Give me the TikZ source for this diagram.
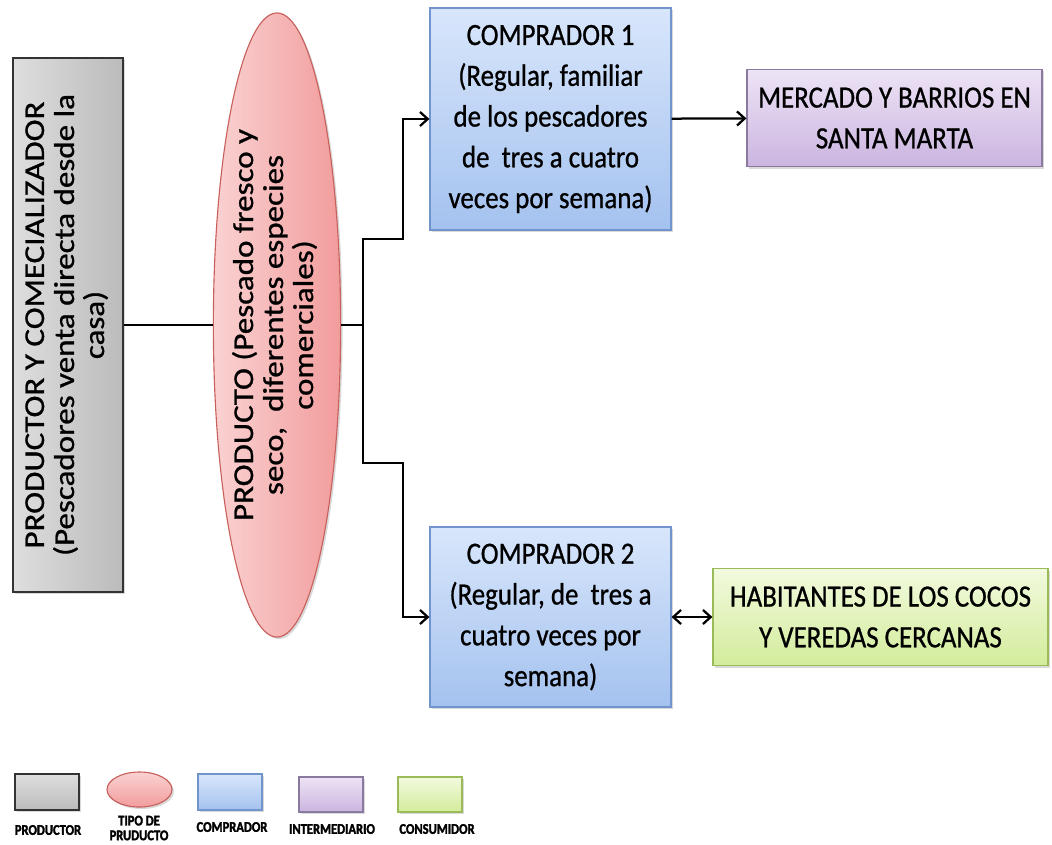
\documentclass[tikz,border=0pt]{standalone}
\usepackage{fontspec}
\usepackage{graphicx}
\setmainfont{Carlito}[FakeBold=0.8]
\newfontfamily\narrowfont{Carlito}[FakeStretch=0.87, FakeBold=0.8]
\newfontfamily\legendfont{Carlito Bold}[FakeStretch=0.85, FakeBold=2]
\usetikzlibrary{shapes.geometric,shadows,arrows.meta}

\definecolor{grayhi}{HTML}{DEDEDE}
\definecolor{graylo}{HTML}{BBBBBB}
\definecolor{grayline}{HTML}{333333}
\definecolor{pinkhi}{HTML}{FAD2D2}
\definecolor{pinklo}{HTML}{F29C9C}
\definecolor{pinkline}{HTML}{C8605C}
\definecolor{bluehi}{HTML}{D8E6FB}
\definecolor{bluelo}{HTML}{A4C2EF}
\definecolor{blueline}{HTML}{7294CC}
\definecolor{purplehi}{HTML}{EDE3F5}
\definecolor{purplelo}{HTML}{CBB5E0}
\definecolor{purpleline}{HTML}{8B7AA0}
\definecolor{greenhi}{HTML}{F2FADE}
\definecolor{greenlo}{HTML}{D3EC9C}
\definecolor{greenline}{HTML}{9BBB59}

% rotated text, squeezed across the line
\newcommand{\vtext}[1]{\scalebox{1}[0.87]{\rmfamily\fontsize{23.5}{24.5}\selectfont\begin{tabular}{@{}c@{}}#1\end{tabular}}}

\begin{document}
\begin{tikzpicture}[x=0.025cm, y=-0.025cm,
  >={Straight Barb[length=5.5pt,width=10pt]},
  every node/.style={font=\narrowfont\fontsize{22}{29}\selectfont, align=center, text=black},
  caja/.style={rectangle, draw, line width=0.8pt, inner sep=2pt,
    drop shadow={opacity=0.3, shadow xshift=0.5mm, shadow yshift=-0.5mm}},
  productorbox/.style={caja, draw=grayline, line width=1.3pt, top color=grayhi, bottom color=graylo},
  tipobox/.style={ellipse, draw=pinkline, line width=0.8pt, inner sep=0pt, top color=pinkhi, bottom color=pinklo,
    drop shadow={opacity=0.3, shadow xshift=0.5mm, shadow yshift=-0.5mm}},
  compradorbox/.style={caja, draw=blueline, top color=bluehi, bottom color=bluelo},
  intermediariobox/.style={caja, draw=purpleline, top color=purplehi, bottom color=purplelo},
  consumidorbox/.style={caja, draw=greenline, top color=greenhi, bottom color=greenlo},
  leyenda/.style={font=\legendfont\fontsize{10.5}{10.5}\selectfont},
  linea/.style={line width=1.6pt}]
  \useasboundingbox (0, 0) rectangle (1052, 844);
  % Nodes
  \node (productor) [productorbox, left color=grayhi, right color=graylo, rotate=90, minimum width=13.35cm, minimum height=2.75cm] at (68, 325) {\vtext{PRODUCTOR Y COMECIALIZADOR\\(Pescadores venta directa desde la\\casa)}};
  \node (producto) [tipobox, left color=pinkhi, right color=pinklo, rotate=90, minimum width=15.6cm, minimum height=3.1cm] at (277, 325) {\vtext{PRODUCTO (Pescado fresco y\\seco,~~diferentes especies\\comerciales)}};
  \node (comprador1) [compradorbox, minimum width=6.025cm, minimum height=5.55cm] at (550.5, 119) {COMPRADOR 1\\(Regular, familiar\\de los pescadores\\de~~tres a cuatro\\veces por semana)};
  \node (comprador2) [compradorbox, minimum width=6.025cm, minimum height=4.5cm] at (550.5, 617) {COMPRADOR 2\\(Regular, de~~tres a\\cuatro veces por\\semana)};
  \node (mercado) [intermediariobox, minimum width=7.375cm, minimum height=2.425cm] at (894.5, 118) {MERCADO Y BARRIOS EN\\SANTA MARTA};
  \node (habitantes) [consumidorbox, minimum width=8.375cm, minimum height=2.425cm] at (880.5, 617) {HABITANTES DE LOS COCOS\\Y VEREDAS CERCANAS};
  \coordinate (jn) at (363, 325);
  \coordinate (ua) at (403, 239);
  \coordinate (da) at (403, 463);
  % Legend
  \node (legprod) [productorbox, minimum width=1.6cm, minimum height=0.9cm] at (47, 792) {};
  \node (legtipo) [tipobox, minimum width=1.625cm, minimum height=0.875cm] at (139.5, 789.5) {};
  \node (legcomp) [compradorbox, minimum width=1.6cm, minimum height=0.9cm] at (230, 792) {};
  \node (leginter) [intermediariobox, minimum width=1.6cm, minimum height=0.875cm] at (331, 794.5) {};
  \node (legcons) [consumidorbox, minimum width=1.6cm, minimum height=0.875cm] at (430, 794.5) {};
  \node (txtprod) [leyenda] at (48, 830) {PRODUCTOR};
  \node (txttipo) [leyenda] at (139, 828) {TIPO DE\\PRUDUCTO};
  \node (txtcomp) [leyenda] at (232, 827) {COMPRADOR};
  \node (txtinter) [leyenda] at (332, 829) {INTERMEDIARIO};
  \node (txtcons) [leyenda] at (437, 829) {CONSUMIDOR};
  % Arrows
  \draw[linea] (productor) -- (producto);
  \draw[linea] (producto) -- (jn);
  \draw[linea, ->] (jn) |- (ua) |- (comprador1);
  \draw[linea, ->] (jn) |- (da) |- (comprador2);
  \draw[linea, ->] (comprador1) -- (mercado);
  \draw[linea, <->] (comprador2) -- (habitantes);
\end{tikzpicture}
\end{document}
